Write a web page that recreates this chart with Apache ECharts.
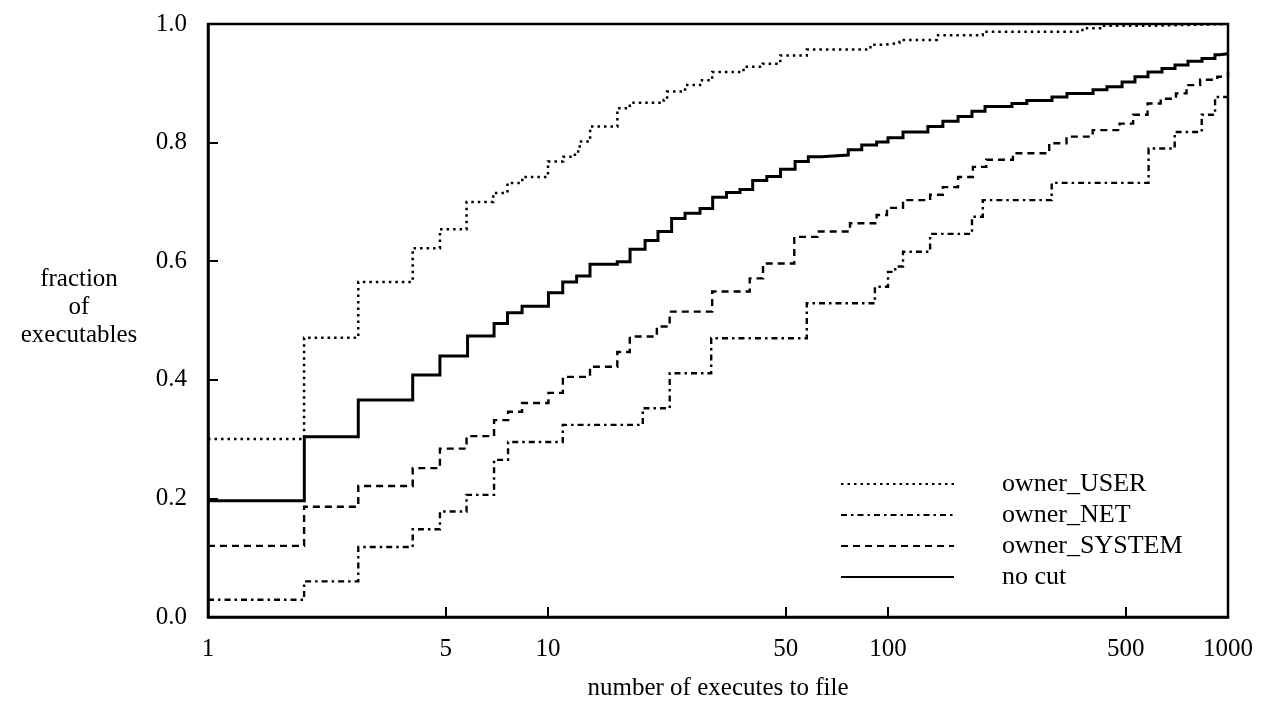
<!DOCTYPE html>
<html>
<head>
<meta charset="utf-8">
<title>fraction of executables vs number of executes to file</title>
<script src="https://cdn.jsdelivr.net/npm/echarts@6/dist/echarts.min.js"></script>
<style>
  html, body { margin: 0; padding: 0; background: #ffffff; }
  #chart { width: 1263px; height: 708px; }
</style>
</head>
<body>
<div id="chart"></div>
<script>
// Cumulative fraction of executables by number of executes to the file.
// Each pair is [executes, fraction]; the fraction holds until the next pair.
const ownerUser = [
  [1, 0.300], [1.917, 0.471], [2.767, 0.565], [4.0, 0.622], [4.81, 0.654],
  [5.76, 0.700], [6.9, 0.715], [7.6, 0.732], [8.4, 0.742], [10.0, 0.768],
  [11.1, 0.776], [12.0, 0.785], [12.4, 0.802], [13.3, 0.827], [16.0, 0.858],
  [17.4, 0.867], [21.9, 0.872], [22.4, 0.886], [25.3, 0.897], [28.0, 0.905],
  [30.4, 0.919], [37.6, 0.928], [42.8, 0.933], [48.2, 0.947], [57.7, 0.957],
  [88.8, 0.965], [96.6, 0.968], [108, 0.973], [139, 0.981], [190, 0.987],
  [373, 0.993], [428, 0.997], [587, 1.0], [1000, 1.0]
];
const ownerNet = [
  [1, 0.029], [1.917, 0.060], [2.767, 0.118], [4.0, 0.148], [4.81, 0.178],
  [5.76, 0.206], [6.94, 0.265], [7.63, 0.295], [11.05, 0.324], [19.0, 0.352],
  [22.8, 0.411], [30.2, 0.470], [57.7, 0.529], [91.5, 0.557], [100, 0.582],
  [105, 0.591], [110.7, 0.616], [133, 0.646], [176.6, 0.675], [190, 0.703],
  [303, 0.732], [584, 0.790], [697, 0.818], [837, 0.847], [916, 0.877],
  [1000, 0.877]
];
const ownerSystem = [
  [1, 0.120], [1.917, 0.186], [2.767, 0.221], [4.0, 0.251], [4.81, 0.284],
  [5.76, 0.305], [6.94, 0.332], [7.63, 0.346], [8.39, 0.361], [10.03, 0.378],
  [11.06, 0.405], [13.29, 0.422], [15.99, 0.447], [17.4, 0.473], [20.9, 0.490],
  [22.8, 0.515], [30.4, 0.549], [39.2, 0.571], [42.9, 0.596], [53, 0.641],
  [62, 0.650], [77.3, 0.664], [92.6, 0.678], [99.3, 0.690], [110.7, 0.703],
  [133, 0.712], [145, 0.725], [160.7, 0.742], [177.7, 0.759], [194.5, 0.771],
  [233, 0.782], [298, 0.799], [335, 0.810], [400, 0.821], [480, 0.832],
  [526, 0.847], [580, 0.866], [634, 0.874], [703, 0.883], [755, 0.897],
  [828, 0.906], [930, 0.911], [1000, 0.919]
];
const noCut = [
  [1, 0.196], [1.92, 0.304], [2.767, 0.366], [4.0, 0.408], [4.81, 0.440],
  [5.8, 0.474], [6.94, 0.495], [7.6, 0.513], [8.39, 0.524], [10.03, 0.547],
  [11.05, 0.565], [12.14, 0.575], [13.29, 0.595], [15.99, 0.599], [17.43, 0.620],
  [19.3, 0.635], [21.06, 0.650], [23.1, 0.672], [25.3, 0.681], [28.0, 0.689],
  [30.5, 0.708], [33.5, 0.716], [36.7, 0.721], [40.0, 0.736], [44.0, 0.743],
  [48.3, 0.755], [53.3, 0.768], [58.3, 0.776], [63.8, 0.779], [76.4, 0.788],
  [83.7, 0.796], [92.6, 0.801], [100, 0.808], [110.7, 0.818], [131, 0.827],
  [145, 0.836], [160.7, 0.844], [176.6, 0.853], [192.9, 0.861], [231.5, 0.866],
  [256, 0.871], [303.6, 0.877], [336, 0.883], [400.9, 0.889], [440.6, 0.894],
  [488, 0.902], [532.6, 0.911], [581.7, 0.919], [639.6, 0.925], [698.4, 0.931],
  [762.7, 0.937], [838.6, 0.942], [915.6, 0.948], [946.5, 0.950], [1000, 0.950]
];

const xLabelValues = [1, 5, 10, 50, 100, 500, 1000];
const xTickValues = [5, 10, 50, 100, 500];
const seriesNames = ['owner_USER', 'owner_NET', 'owner_SYSTEM', 'no cut'];
const yTitle = 'fraction\nof\nexecutables';
const xTitle = 'number of executes to file';

const serif = '"Liberation Serif", "DejaVu Serif", serif';
const ink = '#000000';

function stepSeries(name, data, lineStyle) {
  return {
    name: name,
    type: 'line',
    step: 'end',
    data: data,
    symbol: 'none',
    showSymbol: false,
    animation: false,
    lineStyle: Object.assign({ color: ink, cap: 'butt', join: 'miter' }, lineStyle),
    itemStyle: { color: ink }
  };
}

const chart = echarts.init(document.getElementById('chart'), null, { renderer: 'canvas' });

chart.setOption({
  backgroundColor: '#ffffff',
  animation: false,
  grid: {
    left: 208, right: 35, top: 24, bottom: 91,
    show: true,
    borderColor: ink,
    borderWidth: 2.5,
    backgroundColor: 'transparent',
    outerBoundsMode: 'none'
  },
  // three-line vertical axis title, each line centred on x
  graphic: [{
    type: 'text',
    x: 79,
    y: 265,
    style: {
      text: yTitle,
      font: '25px ' + serif,
      lineHeight: 28,
      fill: ink,
      align: 'center',
      verticalAlign: 'top'
    }
  }],
  legend: {
    orient: 'vertical',
    left: 835,
    top: 466,
    itemWidth: 113,
    itemHeight: 14,
    itemGap: 5,
    data: seriesNames,
    itemStyle: { color: 'transparent', borderColor: 'transparent', borderWidth: 0 },
    textStyle: {
      fontFamily: serif,
      fontSize: 26,
      lineHeight: 26,
      color: ink,
      padding: [0, 0, 0, 43]
    }
  },
  xAxis: {
    type: 'log',
    logBase: 10,
    min: 1,
    max: 1000,
    name: xTitle,
    nameLocation: 'middle',
    nameGap: 59,
    nameTextStyle: { fontFamily: serif, fontSize: 25, color: ink },
    axisLine: { show: true, lineStyle: { color: ink, width: 2.5 } },
    axisTick: {
      show: true, inside: true, length: 10,
      customValues: xTickValues,
      lineStyle: { color: ink, width: 2 }
    },
    minorTick: { show: false },
    splitLine: { show: false },
    axisLabel: {
      customValues: xLabelValues,
      margin: 20,
      fontFamily: serif,
      fontSize: 25,
      color: ink,
      formatter: function (v) { return String(Math.round(v)); }
    }
  },
  yAxis: {
    type: 'value',
    min: 0,
    max: 1,
    interval: 0.2,
    axisLine: { show: true, lineStyle: { color: ink, width: 2.5 } },
    axisTick: { show: true, inside: true, length: 10, lineStyle: { color: ink, width: 2 } },
    splitLine: { show: false },
    axisLabel: {
      margin: 21,
      fontFamily: serif,
      fontSize: 25,
      color: ink,
      formatter: function (v) { return v.toFixed(1); }
    }
  },
  series: [
    stepSeries('owner_USER', ownerUser, { width: 2.5, type: [2.5, 4] }),
    stepSeries('owner_NET', ownerNet, { width: 2.4, type: [6, 4, 2.5, 4] }),
    stepSeries('owner_SYSTEM', ownerSystem, { width: 2.4, type: [7, 5] }),
    stepSeries('no cut', noCut, { width: 3, type: 'solid' })
  ]
});
</script>
</body>
</html>
